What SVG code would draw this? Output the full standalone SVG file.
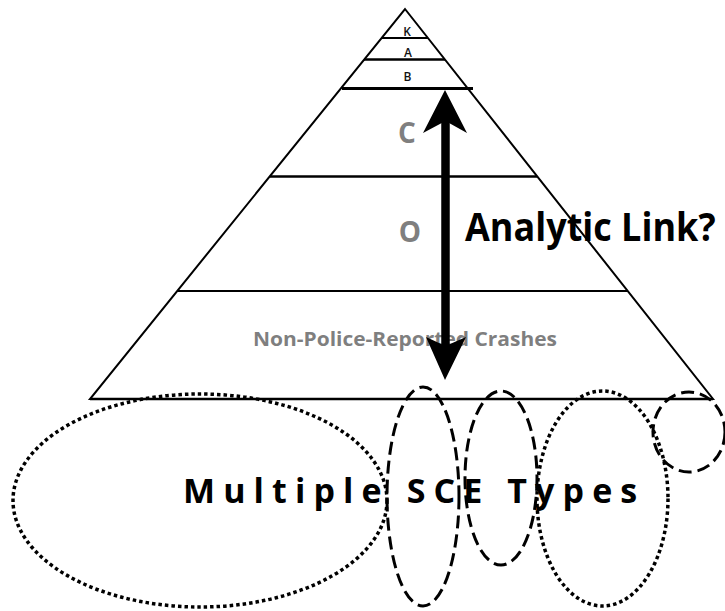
<svg xmlns="http://www.w3.org/2000/svg" width="725" height="611" viewBox="0 0 725 611">
<defs>
<style>
.ln{stroke:#000;fill:none;stroke-linecap:butt}
.lbl{font-family:"Open Sans","Liberation Sans",sans-serif;font-weight:600;font-size:12px;fill:#111;text-anchor:middle}
.gray{font-family:"Open Sans","Liberation Sans",sans-serif;font-weight:bold;fill:#7f7f7f}
.big{font-family:"Open Sans","Liberation Sans",sans-serif;font-weight:bold;fill:#000}
.dot{fill:none;stroke:#000;stroke-width:3.5;stroke-dasharray:3.5 3}
.dash{fill:none;stroke:#000;stroke-width:3;stroke-dasharray:13 6}
</style>
</defs>
<rect width="725" height="611" fill="#fff"/>
<g id="pyramid">
<polygon class="ln" stroke-width="2" points="405,9 713,399 90,399" stroke-linejoin="miter"/>
<line class="ln" stroke-width="2" x1="381.6" y1="38" x2="428" y2="38"/>
<line class="ln" stroke-width="2.5" x1="364" y1="59.5" x2="445" y2="59.5"/>
<line class="ln" stroke-width="3" x1="342" y1="88.5" x2="473" y2="88.5"/>
<line class="ln" stroke-width="2.5" x1="270" y1="176.5" x2="537" y2="176.5"/>
<line class="ln" stroke-width="2" x1="177" y1="291" x2="628" y2="291"/>
<line class="ln" stroke-width="2.5" x1="90" y1="399" x2="713" y2="399"/>
</g>
<g id="tier-labels">
<text class="lbl" x="407" y="36">K</text>
<text class="lbl" x="408" y="56.5">A</text>
<text class="lbl" x="407.5" y="80.5">B</text>
<text class="gray" x="407" y="143" font-size="28" text-anchor="middle">C</text>
<text class="gray" x="410" y="242" font-size="28" text-anchor="middle">O</text>
<text class="gray" x="253" y="346" font-size="20" textLength="304" lengthAdjust="spacingAndGlyphs">Non-Police-Reported Crashes</text>
</g>
<g id="sce-label">
<text class="big" x="183" y="503" font-size="34" letter-spacing="8.1">Multiple SCE Types</text>
</g>
<g id="sce-ellipses">
<ellipse id="sce1" class="dot" cx="200" cy="500.5" rx="187" ry="106.5"/>
<ellipse id="sce2" class="dash" cx="423" cy="496.5" rx="36" ry="109.5"/>
<ellipse id="sce3" class="dash" cx="501" cy="478" rx="36" ry="87"/>
<ellipse id="sce4" class="dot" cx="602.5" cy="498.5" rx="65.5" ry="107.5"/>
<ellipse id="sce5" class="dash" cx="689" cy="432" rx="36" ry="40"/>
</g>
<g id="connectors">
<line x1="445.5" y1="118" x2="445.5" y2="348" stroke="#000" stroke-width="8.5"/>
<polygon points="445,90 467,133 445.5,121 423,133" fill="#000"/>
<polygon points="445,380 426,337 445.5,346 466,337" fill="#000"/>
</g>
<g id="analytic-label">
<text class="big" x="465" y="241.5" font-size="36" transform="translate(0 241.5) scale(1 1.1) translate(0 -241.5)">Analytic Link?</text>
</g>
</svg>
